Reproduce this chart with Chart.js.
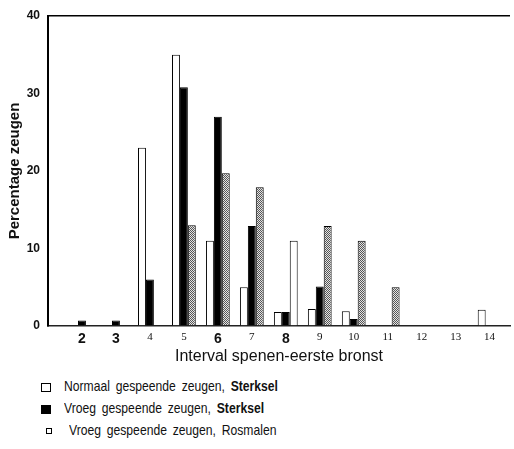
<!DOCTYPE html>
<html>
<head>
<meta charset="utf-8">
<script src="https://cdn.jsdelivr.net/npm/chart.js@4.4.0/dist/chart.umd.min.js"></script>
<style>
  body { margin: 0; background: #fff; }
  #wrap { position: relative; width: 514px; height: 449px; }
  #box { position: absolute; left: 0; top: 0; width: 514px; height: 372px; }
  #legend { position: absolute; left: 40px; top: 375px; font: 15px "Liberation Sans", Arial, sans-serif; word-spacing: 3px; color: #111; }
  .row { height: 22px; line-height: 22px; white-space: nowrap; }
  .row b { font-weight: bold; }
  .txt { display: inline-block; transform: scaleX(0.81); transform-origin: left center; }
  .sw { display: inline-block; vertical-align: middle; margin-right: 13px; box-sizing: border-box; }
  .wit { width: 10px; height: 9px; border: 1.5px solid #000; background: #fff; margin-left: 1px; }
  .zwart { width: 10px; height: 9px; background: #000; margin-left: 1px; }
  .grijs { width: 6px; height: 6px; border: 1px solid #000; background: #fff; margin-left: 6px; margin-right: 17px; }
</style>
</head>
<body>
<div id="wrap">
  <div id="box"><canvas id="grafiek"></canvas></div>
  <div id="legend">
    <div class="row"><span class="sw wit"></span><span class="txt">Normaal gespeende zeugen, <b>Sterksel</b></span></div>
    <div class="row"><span class="sw zwart"></span><span class="txt">Vroeg gespeende zeugen, <b>Sterksel</b></span></div>
    <div class="row"><span class="sw grijs"></span><span class="txt">Vroeg gespeende zeugen, Rosmalen</span></div>
  </div>
</div>
<script>
const interval = [2, 3, 4, 5, 6, 7, 8, 9, 10, 11, 12, 13, 14];
const normaalSterksel = [0, 0, 23, 35, 11, 5, 1.8, 2.2, 1.9, 0, 0, 0, 2.1];
const vroegSterksel = [0.7, 0.7, 6, 30.8, 27, 12.9, 1.8, 5.1, 0.9, 0, 0, 0, 0];
const vroegRosmalen = [0, 0, 0, 13, 19.7, 17.9, 11, 12.9, 11, 5, 0, 0, 0];
const yTicks = [0, 10, 20, 30, 40];
const vetLabels = [2, 3, 6, 8];

const sans = '"Liberation Sans", Arial, sans-serif';

// grijs raster voor de Rosmalen-staven
const pc = document.createElement('canvas');
pc.width = 2; pc.height = 2;
const pctx = pc.getContext('2d');
pctx.fillStyle = '#e4e4e4'; pctx.fillRect(0, 0, 2, 2);
pctx.fillStyle = '#555'; pctx.fillRect(0, 0, 1, 1); pctx.fillRect(1, 1, 1, 1);
const raster = pctx.createPattern(pc, 'repeat');

new Chart(document.getElementById('grafiek'), {
  type: 'bar',
  data: {
    labels: interval,
    datasets: [
      { label: 'Normaal gespeende zeugen, Sterksel', data: normaalSterksel, backgroundColor: '#fff', borderColor: '#000', borderWidth: 1 },
      { label: 'Vroeg gespeende zeugen, Sterksel', data: vroegSterksel, backgroundColor: '#000', borderColor: '#000', borderWidth: 1 },
      { label: 'Vroeg gespeende zeugen, Rosmalen', data: vroegRosmalen,
        backgroundColor: ctx => interval[ctx.dataIndex] === 8 ? '#fff' : raster,
        borderColor: '#000', borderWidth: 1 }
    ]
  },
  options: {
    responsive: true,
    maintainAspectRatio: false,
    animation: false,
    layout: { padding: { top: 16, right: 4, left: 0, bottom: 0 } },
    datasets: { bar: { categoryPercentage: 0.7, barPercentage: 1.0 } },
    plugins: { legend: { display: false }, tooltip: { enabled: false } },
    scales: {
      x: {
        type: 'linear',
        offset: false,
        min: 1,
        max: 14.6,
        afterFit: s => { s.height = 46; },
        grid: { display: false, drawTicks: false },
        border: { display: true, color: '#222', width: 1.5 },
        ticks: {
          stepSize: 1,
          includeBounds: false,
          autoSkip: false,
          maxRotation: 0,
          maxTicksLimit: 30,
          padding: 5,
          color: '#111',
          callback: v => (interval.includes(v) ? String(v) : ''),
          font: ctx => vetLabels.includes(ctx.tick && ctx.tick.value)
            ? { family: sans, size: 14, weight: 'bold' }
            : { family: '"Liberation Serif", "DejaVu Serif", serif', size: 11 }
        },
        title: {
          display: true,
          text: 'Interval spenen-eerste bronst',
          color: '#111',
          font: { family: sans, size: 16 },
          padding: { top: 0, bottom: 6 }
        }
      },
      y: {
        min: 0,
        max: 40,
        afterFit: s => { s.width = 48; },
        afterBuildTicks: s => { s.ticks = yTicks.map(v => ({ value: v })); },
        grid: {
          drawTicks: false,
          color: ctx => (ctx.tick && ctx.tick.value === 40 ? '#000' : 'rgba(0,0,0,0)'),
          lineWidth: 1.5
        },
        border: { display: true, color: '#000', width: 2 },
        ticks: {
          padding: 8,
          color: '#111',
          font: { family: sans, size: 12, weight: 'bold' }
        },
        title: {
          display: true,
          text: 'Percentage zeugen',
          color: '#111',
          font: { family: sans, size: 15, weight: 'bold' },
          padding: { top: 6, bottom: 0 }
        }
      }
    }
  }
});
</script>
</body>
</html>
